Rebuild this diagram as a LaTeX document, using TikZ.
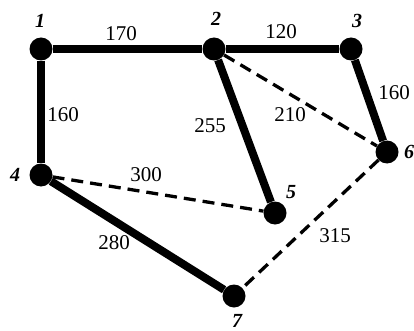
\documentclass[tikz,border=0pt]{standalone}
\usepackage{fontspec}
\setmainfont{Liberation Serif}

\begin{document}
\begin{tikzpicture}[x=1pt,y=-1pt,
  sommet/.style={circle,fill=black,inner sep=0pt,minimum size=23pt},
  plein/.style={line width=8pt},
  tirets/.style={line width=3.3pt,dash pattern=on 12pt off 7pt},
  poids/.style={font=\fontsize{21}{21}\selectfont},
  numero/.style={font=\fontsize{20}{20}\selectfont\itshape\bfseries}]
%cadre
\useasboundingbox (0,0) rectangle (414,331);

%sommets
\node[sommet] (s1) at (41,49) {};
\node[sommet] (s2) at (214,49) {};
\node[sommet] (s3) at (351,49) {};
\node[sommet] (s4) at (41,175) {};
\node[sommet] (s5) at (275,213) {};
\node[sommet] (s6) at (387,152) {};
\node[sommet] (s7) at (234,296) {};

%numeros des sommets
\node[numero] (n1) at (40,21) {1};
\node[numero] (n2) at (216,19) {2};
\node[numero] (n3) at (357,21) {3};
\node[numero] (n4) at (15,175) {4};
\node[numero] (n5) at (291,192) {5};
\node[numero] (n6) at (409,152) {6};
\node[numero] (n7) at (237,321) {7};

%arbre (traits pleins)
\draw[plein] (s1) -- (s2);
\draw[plein] (s2) -- (s3);
\draw[plein] (s1) -- (s4);
\draw[plein] (s3) -- (s6);
\draw[plein] (s2) -- (s5);
\draw[plein] (s4) -- (s7);

%autres aretes
\draw[tirets] (s2) -- (s6);
\draw[tirets] (s4) -- (s5);
\draw[tirets] (s6) -- (s7);

%poids
\node[poids] (p12) at (121,34) {170};
\node[poids] (p23) at (281,32) {120};
\node[poids] (p14) at (63,115) {160};
\node[poids] (p25) at (210,126) {255};
\node[poids] (p26) at (290,115) {210};
\node[poids] (p36) at (394,93) {160};
\node[poids] (p45) at (146,175) {300};
\node[poids] (p67) at (335,236) {315};
\node[poids] (p47) at (114,243) {280};

\end{tikzpicture}
\end{document}
